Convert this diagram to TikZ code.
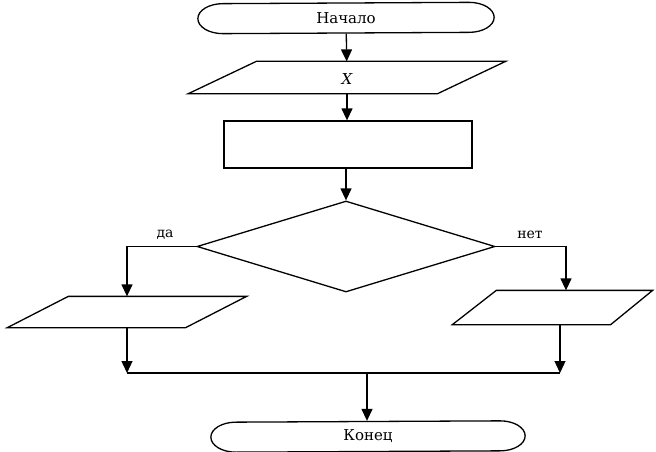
\documentclass[tikz,border=0pt]{standalone}
\usepackage{fontspec}
\setmainfont{DejaVu Serif}
\usetikzlibrary{arrows.meta,shapes.geometric,calc}
\newcommand{\myterminal}[1]{%
  \draw ($(#1.north east)+(-25,0)$) arc[start angle=-90,end angle=90,x radius=25,y radius=15]
     -- ($(#1.south west)+(25,0)$) arc[start angle=90,end angle=270,x radius=25,y radius=15] -- cycle;}
\begin{document}
\begin{tikzpicture}[x=1pt,y=-1pt,line width=1.3pt,
  arr/.style={-{Triangle[length=12pt,width=11pt]}},
  term/.style={draw=none,minimum width=#1,minimum height=30pt,inner sep=0pt,font=\fontsize{15}{17}\selectfont},
  box/.style={draw=none,inner sep=0pt},
  lbl/.style={inner sep=0pt,font=\fontsize{14}{16}\selectfont}]
\useasboundingbox (0,0) rectangle (656,452);
% terminals
\node[term=295pt] (start) at (346,18) {Начало};
\myterminal{start}
\node[term=313pt] (stop) at (368,436.5) {Конец};
\myterminal{stop}
% input X
\node[box,minimum width=316pt,minimum height=31pt] (in0) at (347,77.5) {};
\draw ($(in0.north west)+(68,0)$) -- (in0.north east) -- ($(in0.south east)+(-68,0)$) -- (in0.south west) -- cycle;
\node[font=\fontsize{15}{17}\selectfont\itshape] (xl) at (347,79) {X};
% process
\node[draw,minimum width=248pt,minimum height=47pt,inner sep=0pt] (proc) at (348,144.5) {};
% decision
\node[diamond,draw,minimum width=298pt,minimum height=91pt,inner sep=0pt] (dec) at (346,246.5) {};
% left output
\node[box,minimum width=238pt,minimum height=30pt] (in1) at (127,312) {};
\draw ($(in1.north west)+(61,0)$) -- (in1.north east) -- ($(in1.south east)+(-61,0)$) -- (in1.south west) -- cycle;
% right output
\node[box,minimum width=199pt,minimum height=33pt] (out2) at (552.5,307.5) {};
\draw ($(out2.north west)+(44,0)$) -- (out2.north east) -- ($(out2.south east)+(-42,0)$) -- (out2.south west) -- cycle;
% labels
\node[lbl] (yes) at (165,235) {да};
\node[lbl] (no) at (530,235) {нет};
% join coordinates
\coordinate (j1) at (127,373);
\coordinate (j2) at (560,373);
\coordinate (jm) at (367,373);
% connectors
\draw[arr] (start) -- (in0);
\draw[arr] (in0) -- (proc.north -| in0);
\draw[arr] (proc.south -| dec.north) -- (dec.north);
\draw[arr] (dec.west) -| (in1.north);
\draw[arr] (dec.east) -| ([xshift=13.5pt]out2.north);
\draw[arr] (in1.south) -- (j1);
\draw[arr] ([xshift=7.5pt]out2.south) -- (j2);
\draw (j1) -- (j2);
\draw[arr] (jm) -- (stop.north -| jm);
\end{tikzpicture}
\end{document}
